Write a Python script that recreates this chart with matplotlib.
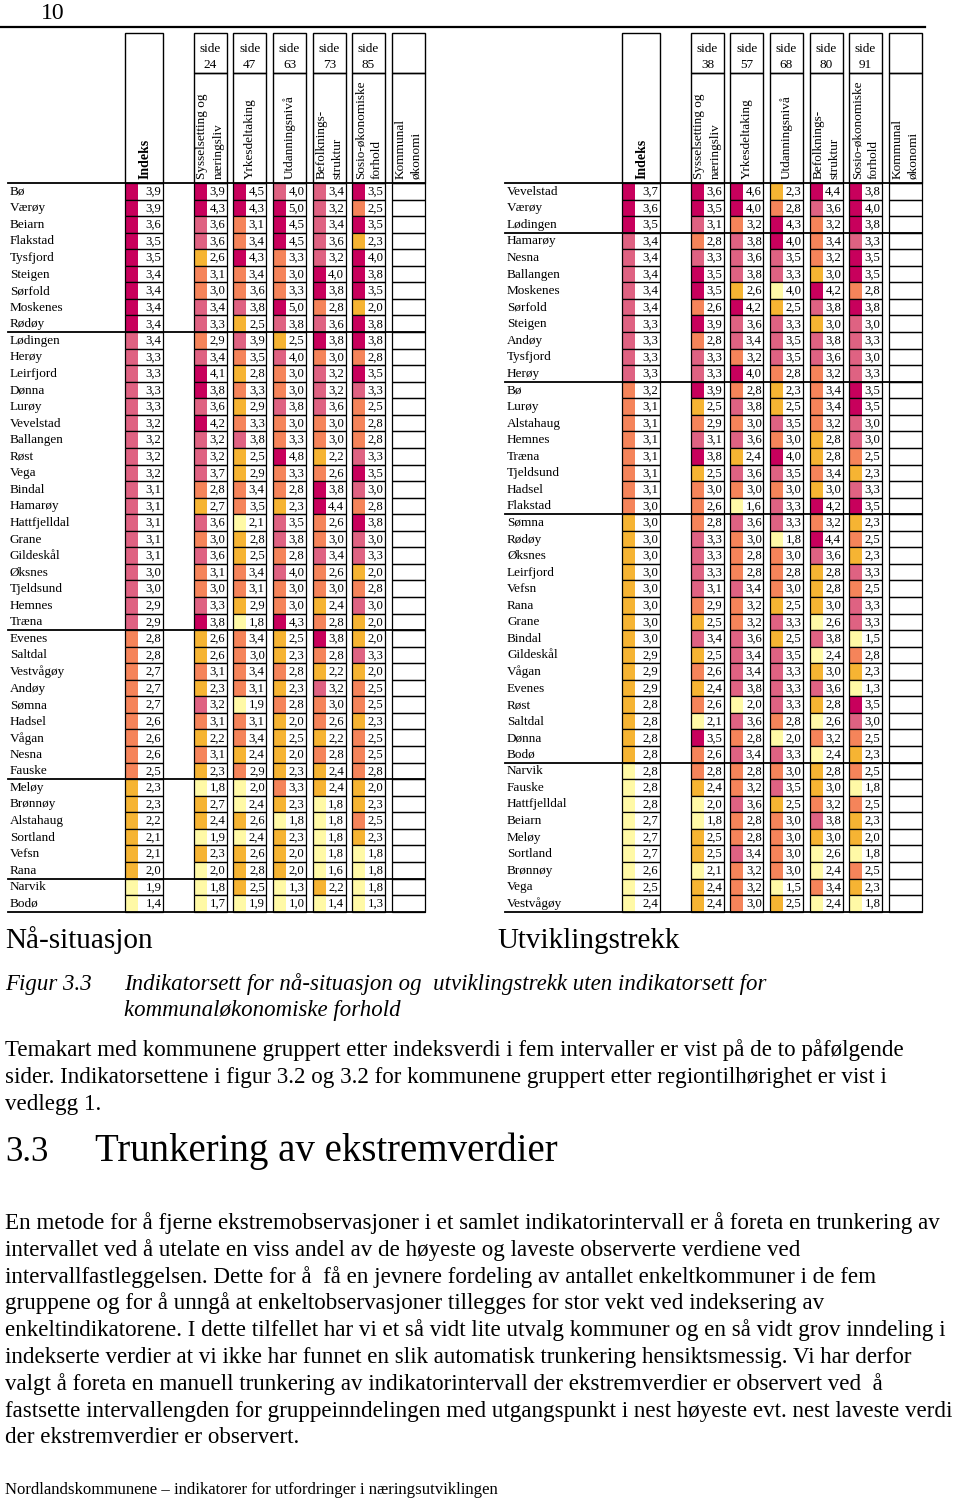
import matplotlib.pyplot as plt
from matplotlib.patches import Rectangle

plt.rcParams['font.family'] = ['Liberation Serif', 'DejaVu Serif']

# ---- data: Nå-situasjon (left table) ----
left_names = ['Bø', 'Værøy', 'Beiarn', 'Flakstad', 'Tysfjord', 'Steigen', 'Sørfold', 'Moskenes', 'Rødøy',
              'Lødingen', 'Herøy', 'Leirfjord', 'Dønna', 'Lurøy', 'Vevelstad', 'Ballangen', 'Røst', 'Vega',
              'Bindal', 'Hamarøy', 'Hattfjelldal', 'Grane', 'Gildeskål', 'Øksnes', 'Tjeldsund', 'Hemnes',
              'Træna', 'Evenes', 'Saltdal', 'Vestvågøy', 'Andøy', 'Sømna', 'Hadsel', 'Vågan', 'Nesna',
              'Fauske', 'Meløy', 'Brønnøy', 'Alstahaug', 'Sortland', 'Vefsn', 'Rana', 'Narvik', 'Bodø']
left_indeks = [3.9, 3.9, 3.6, 3.5, 3.5, 3.4, 3.4, 3.4, 3.4, 3.4, 3.3, 3.3, 3.3, 3.3, 3.2, 3.2, 3.2, 3.2, 3.1, 3.1,
               3.1, 3.1, 3.1, 3.0, 3.0, 2.9, 2.9, 2.8, 2.8, 2.7, 2.7, 2.7, 2.6, 2.6, 2.6, 2.5, 2.3, 2.3, 2.2, 2.1,
               2.1, 2.0, 1.9, 1.4]
left_syssel = [3.9, 4.3, 3.6, 3.6, 2.6, 3.1, 3.0, 3.4, 3.3, 2.9, 3.4, 4.1, 3.8, 3.6, 4.2, 3.2, 3.2, 3.7, 2.8, 2.7,
               3.6, 3.0, 3.6, 3.1, 3.0, 3.3, 3.8, 2.6, 2.6, 3.1, 2.3, 3.2, 3.1, 2.2, 3.1, 2.3, 1.8, 2.7, 2.4, 1.9,
               2.3, 2.0, 1.8, 1.7]
left_yrkes = [4.5, 4.3, 3.1, 3.4, 4.3, 3.4, 3.6, 3.8, 2.5, 3.9, 3.5, 2.8, 3.3, 2.9, 3.3, 3.8, 2.5, 2.9, 3.4, 3.5,
              2.1, 2.8, 2.5, 3.4, 3.1, 2.9, 1.8, 3.4, 3.0, 3.4, 3.1, 1.9, 3.1, 3.4, 2.4, 2.9, 2.0, 2.4, 2.6, 2.4,
              2.6, 2.8, 2.5, 1.9]
left_utd = [4.0, 5.0, 4.5, 4.5, 3.3, 3.0, 3.3, 5.0, 3.8, 2.5, 4.0, 3.0, 3.0, 3.8, 3.0, 3.3, 4.8, 3.3, 2.8, 2.3,
            3.5, 3.8, 2.8, 4.0, 3.0, 3.0, 4.3, 2.5, 2.3, 2.8, 2.3, 2.8, 2.0, 2.5, 2.0, 2.3, 3.3, 2.3, 1.8, 2.3,
            2.0, 2.0, 1.3, 1.0]
left_befolk = [3.4, 3.2, 3.4, 3.6, 3.2, 4.0, 3.8, 2.8, 3.6, 3.8, 3.0, 3.2, 3.2, 3.6, 3.0, 3.0, 2.2, 2.6, 3.8, 4.4,
               2.6, 3.0, 3.4, 2.6, 3.0, 2.4, 2.8, 3.8, 2.8, 2.2, 3.2, 3.0, 2.6, 2.2, 2.8, 2.4, 2.4, 1.8, 1.8, 1.8,
               1.8, 1.6, 2.2, 1.4]
left_sosio = [3.5, 2.5, 3.5, 2.3, 4.0, 3.8, 3.5, 2.0, 3.8, 3.8, 2.8, 3.5, 3.3, 2.5, 2.8, 2.8, 3.3, 3.5, 3.0, 2.8,
              3.8, 3.0, 3.3, 2.0, 2.8, 3.0, 2.0, 2.0, 3.3, 2.0, 2.5, 2.5, 2.3, 2.5, 2.5, 2.8, 2.0, 2.3, 2.5, 2.3,
              1.8, 1.8, 1.8, 1.3]
# interval group of each cell (1 = highest ... 5 = lowest)
left_grp_indeks = '11111111122222222222222222233333333344444455'
left_grp_syssel = '11224332232112122234232332144342343454454555'
left_grp_yrkes = '11331332423434324433544334533335334355454445'
left_grp_utd = '21113331242332331334223233144343444434544455'
left_grp_befolk = '22222113213222334311332334313423343445555545'
left_grp_sosio = '13141114113123332123122432442433433344345555'

# ---- data: Utviklingstrekk (right table) ----
right_names = ['Vevelstad', 'Værøy', 'Lødingen', 'Hamarøy', 'Nesna', 'Ballangen', 'Moskenes', 'Sørfold',
               'Steigen', 'Andøy', 'Tysfjord', 'Herøy', 'Bø', 'Lurøy', 'Alstahaug', 'Hemnes', 'Træna',
               'Tjeldsund', 'Hadsel', 'Flakstad', 'Sømna', 'Rødøy', 'Øksnes', 'Leirfjord', 'Vefsn', 'Rana',
               'Grane', 'Bindal', 'Gildeskål', 'Vågan', 'Evenes', 'Røst', 'Saltdal', 'Dønna', 'Bodø', 'Narvik',
               'Fauske', 'Hattfjelldal', 'Beiarn', 'Meløy', 'Sortland', 'Brønnøy', 'Vega', 'Vestvågøy']
right_indeks = [3.7, 3.6, 3.5, 3.4, 3.4, 3.4, 3.4, 3.4, 3.3, 3.3, 3.3, 3.3, 3.2, 3.1, 3.1, 3.1, 3.1, 3.1, 3.1, 3.0,
                3.0, 3.0, 3.0, 3.0, 3.0, 3.0, 3.0, 3.0, 2.9, 2.9, 2.9, 2.8, 2.8, 2.8, 2.8, 2.8, 2.8, 2.8, 2.7, 2.7,
                2.7, 2.6, 2.5, 2.4]
right_syssel = [3.6, 3.5, 3.1, 2.8, 3.3, 3.5, 3.5, 2.6, 3.9, 2.8, 3.3, 3.3, 3.9, 2.5, 2.9, 3.1, 3.8, 2.5, 3.0, 2.6,
                2.8, 3.3, 3.3, 3.3, 3.1, 2.9, 2.5, 3.4, 2.5, 2.6, 2.4, 2.6, 2.1, 3.5, 2.6, 2.8, 2.4, 2.0, 1.8, 2.5,
                2.5, 2.1, 2.4, 2.4]
right_yrkes = [4.6, 4.0, 3.2, 3.8, 3.6, 3.8, 2.6, 4.2, 3.6, 3.4, 3.2, 4.0, 2.8, 3.8, 3.0, 3.6, 2.4, 3.6, 3.0, 1.6,
               3.6, 3.0, 2.8, 2.8, 3.4, 3.2, 3.2, 3.6, 3.4, 3.4, 3.8, 2.0, 3.6, 2.8, 3.4, 2.8, 3.2, 3.6, 2.8, 2.8,
               3.4, 3.2, 3.2, 3.0]
right_utd = [2.3, 2.8, 4.3, 4.0, 3.5, 3.3, 4.0, 2.5, 3.3, 3.5, 3.5, 2.8, 2.3, 2.5, 3.5, 3.0, 4.0, 3.5, 3.0, 3.3,
             3.3, 1.8, 3.0, 2.8, 3.0, 2.5, 3.3, 2.5, 3.5, 3.3, 3.3, 3.3, 2.8, 2.0, 3.3, 3.0, 3.5, 2.5, 3.0, 3.0,
             3.0, 3.0, 1.5, 2.5]
right_befolk = [4.4, 3.6, 3.2, 3.4, 3.2, 3.0, 4.2, 3.8, 3.0, 3.8, 3.6, 3.2, 3.4, 3.4, 3.2, 2.8, 2.8, 3.4, 3.0, 4.2,
                3.2, 4.4, 3.6, 2.8, 2.8, 3.0, 2.6, 3.8, 2.4, 3.0, 3.6, 2.8, 2.6, 3.2, 2.4, 2.8, 3.0, 3.2, 3.8, 3.0,
                2.6, 2.4, 3.4, 2.4]
right_sosio = [3.8, 4.0, 3.8, 3.3, 3.5, 3.5, 2.8, 3.8, 3.0, 3.3, 3.0, 3.3, 3.5, 3.5, 3.0, 3.0, 2.5, 2.3, 3.3, 3.5,
               2.3, 2.5, 2.3, 3.3, 2.5, 3.3, 3.3, 1.5, 2.8, 2.3, 1.3, 3.5, 3.0, 2.5, 2.3, 2.5, 1.8, 2.5, 2.3, 2.0,
               1.8, 2.5, 2.3, 1.8]
right_grp_indeks = '11122222222233333333444444444444444555555555'
right_grp_syssel = '11232113132214321433322223424343513345544544'
right_grp_yrkes = '11322241223132324235233323322225232332332333'
right_grp_utd = '43112254222344231232253334242222352324333354'
right_grp_befolk = '12333412422333344341312444525424535443245535'
right_grp_sosio = '11121131222211223421434232253451234353445345'

col_labels = ['Indeks', 'Sysselsetting og\nnæringsliv', 'Yrkesdeltaking', 'Utdanningsnivå',
              'Befolknings-\nstruktur', 'Sosio-økonomiske\nforhold', 'Kommunal\nøkonomi']
left_pages = ['24', '47', '63', '73', '85']
right_pages = ['38', '57', '68', '80', '91']

grp_colors = {'1': '#c8005c', '2': '#df6282', '3': '#f5845a', '4': '#f6b433', '5': '#fff9a6'}

fig = plt.figure(figsize=(9.6, 15.03), dpi=100)
ax = fig.add_axes([0, 0, 1, 1])
ax.set_xlim(0, 960)
ax.set_ylim(1503, 0)
ax.axis('off')

row0 = 183
row_h = 16.56
hdr_top = 33
hdr_mid = 73
strip_w = 13


def draw_table(x0, names, cols, grps, pages):
    n = len(names)
    lefts = [x0 + 117, x0 + 186, x0 + 225.3, x0 + 265, x0 + 304.7, x0 + 344, x0 + 383.7]
    widths = [38, 33, 33, 33, 33, 33, 33]
    # header boxes
    for j, (lx, w) in enumerate(zip(lefts, widths)):
        if j == 0:
            ax.add_patch(Rectangle((lx, hdr_top), w, row0 - hdr_top, fill=False, lw=1.0, ec='black'))
            ax.text(lx + w / 2 + 1, row0 - 4, col_labels[j], rotation=90, ha='center', va='bottom',
                    fontsize=10, fontweight='bold')
        else:
            ax.add_patch(Rectangle((lx, hdr_top), w, hdr_mid - hdr_top, fill=False, lw=1.0, ec='black'))
            ax.add_patch(Rectangle((lx, hdr_mid), w, row0 - hdr_mid, fill=False, lw=1.0, ec='black'))
            if j <= len(pages):
                ax.text(lx + w / 2, (hdr_top + hdr_mid) / 2 + 4, 'side\n' + pages[j - 1], ha='center',
                        va='center', fontsize=9.5, linespacing=1.45)
            ax.text(lx + w / 2, row0 - 4, col_labels[j], rotation=90, ha='center', va='bottom',
                    fontsize=9.5, linespacing=1.45, multialignment='left')
    # cells
    for i in range(n):
        y = row0 + i * row_h
        ax.text(x0 + 2, y + row_h / 2 + 0.5, names[i], ha='left', va='center', fontsize=9.5)
        for j, (lx, w) in enumerate(zip(lefts, widths)):
            if j < len(cols):
                ax.add_patch(Rectangle((lx, y), strip_w, row_h, fc=grp_colors[grps[j][i]], ec='none'))
                ax.text(lx + w - 1.5, y + row_h / 2 + 0.5, f'{cols[j][i]:.1f}'.replace('.', ','),
                        ha='right', va='center', fontsize=9.2)
            ax.add_patch(Rectangle((lx, y), w, row_h, fill=False, lw=0.9, ec='black'))
    # group separators
    seps = [0] + [i + 1 for i in range(n - 1) if grps[0][i] != grps[0][i + 1]] + [n]
    for s in seps:
        ax.plot([x0, lefts[-1] + widths[-1]], [row0 + s * row_h] * 2, color='black', lw=1.3)


draw_table(8, left_names, [left_indeks, left_syssel, left_yrkes, left_utd, left_befolk, left_sosio],
           [left_grp_indeks, left_grp_syssel, left_grp_yrkes, left_grp_utd, left_grp_befolk, left_grp_sosio],
           left_pages)
draw_table(505, right_names, [right_indeks, right_syssel, right_yrkes, right_utd, right_befolk, right_sosio],
           [right_grp_indeks, right_grp_syssel, right_grp_yrkes, right_grp_utd, right_grp_befolk, right_grp_sosio],
           right_pages)

# page header
ax.text(41, 19, '10', ha='left', va='baseline', fontsize=17)
ax.plot([0, 925], [27, 27], color='black', lw=1.6)

# text below the tables
ax.text(5, 948, 'Nå-situasjon', ha='left', va='baseline', fontsize=21)
ax.text(497, 948, 'Utviklingstrekk', ha='left', va='baseline', fontsize=21)

ax.text(5, 990, 'Figur 3.3', ha='left', va='baseline', fontsize=16.5, style='italic')
ax.text(124, 990, 'Indikatorsett for nå-situasjon og  utviklingstrekk uten indikatorsett for',
        ha='left', va='baseline', fontsize=16.5, style='italic')
ax.text(124, 1016, 'kommunaløkonomiske forhold', ha='left', va='baseline', fontsize=16.5, style='italic')

para1 = ['Temakart med kommunene gruppert etter indeksverdi i fem intervaller er vist på de to påfølgende',
         'sider. Indikatorsettene i figur 3.2 og 3.2 for kommunene gruppert etter regiontilhørighet er vist i',
         'vedlegg 1.']
for k, line in enumerate(para1):
    ax.text(5, 1056 + k * 26.8, line, ha='left', va='baseline', fontsize=16.6)

ax.text(5, 1161, '3.3', ha='left', va='baseline', fontsize=25)
ax.text(95, 1161, 'Trunkering av ekstremverdier', ha='left', va='baseline', fontsize=28)

para2 = ['En metode for å fjerne ekstremobservasjoner i et samlet indikatorintervall er å foreta en trunkering av',
         'intervallet ved å utelate en viss andel av de høyeste og laveste observerte verdiene ved',
         'intervallfastleggelsen. Dette for å  få en jevnere fordeling av antallet enkeltkommuner i de fem',
         'gruppene og for å unngå at enkeltobservasjoner tillegges for stor vekt ved indeksering av',
         'enkeltindikatorene. I dette tilfellet har vi et så vidt lite utvalg kommuner og en så vidt grov inndeling i',
         'indekserte verdier at vi ikke har funnet en slik automatisk trunkering hensiktsmessig. Vi har derfor',
         'valgt å foreta en manuell trunkering av indikatorintervall der ekstremverdier er observert ved  å',
         'fastsette intervallengden for gruppeinndelingen med utgangspunkt i nest høyeste evt. nest laveste verdi',
         'der ekstremverdier er observert.']
for k, line in enumerate(para2):
    ax.text(5, 1229 + k * 26.8, line, ha='left', va='baseline', fontsize=16.6)

ax.text(5, 1494, 'Nordlandskommunene – indikatorer for utfordringer i næringsutviklingen',
        ha='left', va='baseline', fontsize=12.1)

fig.savefig('out.png', dpi=100)
